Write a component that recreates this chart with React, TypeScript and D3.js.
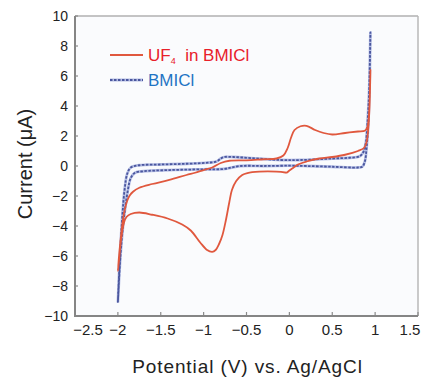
import React from "react";
import * as d3 from "d3";

// UF4 in BMICl: forward scan from ~0 V, reverse to -2 V, then back to ~0 V
const ufPotential = [
  -0.03, 0.0, 0.05, 0.1, 0.2, 0.35, 0.5, 0.65, 0.8, 0.87, 0.9, 0.92, 0.935, 0.945,
  0.935, 0.925, 0.91, 0.88, 0.8, 0.65, 0.5, 0.4, 0.3, 0.2, 0.13, 0.06, 0.02, -0.02, -0.07, -0.15, -0.3, -0.5,
  -0.7, -0.8, -0.9, -1.0, -1.1, -1.2, -1.4, -1.6, -1.75, -1.82, -1.86, -1.89, -1.93, -1.97, -2.0,
  -1.99, -1.96, -1.93, -1.9, -1.85, -1.75, -1.6, -1.42, -1.25, -1.15, -1.04, -0.96, -0.9, -0.86, -0.82,
  -0.78, -0.74, -0.7, -0.67, -0.62, -0.55, -0.49, -0.35, -0.15, -0.03,
];
const ufCurrent = [
  -0.45, -0.3, -0.1, 0.1, 0.3, 0.5, 0.6, 0.75, 1.0, 1.2, 1.6, 2.5, 4.0, 6.4,
  4.2, 3.2, 2.6, 2.35, 2.3, 2.2, 2.1, 2.2, 2.4, 2.68, 2.65, 2.4, 1.9, 1.2, 0.7, 0.5, 0.45, 0.38,
  0.35, 0.2, -0.1, -0.27, -0.45, -0.6, -0.93, -1.2, -1.45, -1.7, -1.95, -2.3, -3.2, -5.0, -7.0,
  -6.5, -4.8, -3.8, -3.4, -3.2, -3.1, -3.25, -3.5, -3.9, -4.3, -5.1, -5.6, -5.73, -5.6, -5.2,
  -4.6, -3.6, -2.4, -1.6, -1.0, -0.6, -0.47, -0.38, -0.38, -0.45,
];

// BMICl blank: upper branch from -2 V to +0.95 V, lower branch back to -2 V
const blankPotential = [
  -2.0, -1.98, -1.95, -1.92, -1.89, -1.85, -1.75, -1.5, -1.2, -0.95, -0.85, -0.8, -0.76, -0.65, -0.45,
  -0.1, 0.13, 0.5, 0.7, 0.82, 0.86, 0.89, 0.91, 0.93, 0.945,
  0.935, 0.92, 0.9, 0.88, 0.85, 0.8, 0.5, 0.2, 0.0, -0.3, -0.57, -0.77, -1.0, -1.4, -1.7, -1.8,
  -1.85, -1.88, -1.91, -1.94, -1.97, -2.0,
];
const blankCurrent = [
  -9.1, -6.5, -3.5, -1.5, -0.5, -0.1, 0.05, 0.1, 0.15, 0.22, 0.3, 0.5, 0.6, 0.6, 0.53,
  0.4, 0.4, 0.5, 0.55, 0.65, 0.9, 1.5, 2.8, 5.0, 8.9,
  5.5, 2.8, 1.2, 0.3, -0.05, -0.1, -0.05, 0.0, 0.02, 0.0, 0.0, -0.2, -0.22, -0.27, -0.35, -0.45,
  -0.8, -1.5, -2.6, -4.0, -6.0, -9.1,
];

const xTicks = [-2.5, -2, -1.5, -1, -0.5, 0, 0.5, 1, 1.5];
const yTicks = [-10, -8, -6, -4, -2, 0, 2, 4, 6, 8, 10];

const W = 421;
const H = 378;
const left = 75;
const right = 418;
const top = 16;
const bottom = 316;

const fmt = (v: number) => String(v).replace("-", "\u2212");

export default function App() {
  const x = d3.scaleLinear().domain([-2.5, 1.5]).range([left, right]);
  const y = d3.scaleLinear().domain([-10, 10]).range([bottom, top]);

  const line = d3
    .line<[number, number]>()
    .x((d) => x(d[0]))
    .y((d) => y(d[1]))
    .curve(d3.curveCatmullRom.alpha(0.5));

  const ufPts = ufPotential.map((v, i) => [v, ufCurrent[i]] as [number, number]);
  const blankPts = blankPotential.map((v, i) => [v, blankCurrent[i]] as [number, number]);

  const font = "'Liberation Sans', Arial, sans-serif";
  const n = xTicks.length;

  return (
    <svg
      width={W}
      height={H}
      style={{ position: "absolute", left: 0, top: 0, background: "#fff" }}
      fontFamily={font}
    >
      <rect x={left} y={top} width={right - left} height={bottom - top} fill="#fafbfd" />

      <line x1={left} x2={right} y1={top} y2={top} stroke="#b0b0b0" strokeWidth={1.5} />
      <line x1={right} x2={right} y1={top} y2={bottom} stroke="#b8b8b8" strokeWidth={1.5} />

      {xTicks.map((t) => (
        <line key={"xt" + t} x1={x(t)} x2={x(t)} y1={bottom} y2={bottom - 4} stroke="#8a8a8a" strokeWidth={1.2} />
      ))}
      {yTicks.map((t) => (
        <line key={"yt" + t} x1={left} x2={left + 3} y1={y(t)} y2={y(t)} stroke="#8a8a8a" strokeWidth={1.2} />
      ))}

      <clipPath id="plot">
        <rect x={left} y={top} width={right - left} height={bottom - top} />
      </clipPath>
      <g clipPath="url(#plot)" fill="none">
        <path d={line(blankPts) ?? ""} stroke="#b4bde4" strokeWidth={2.8} />
        <path d={line(blankPts) ?? ""} stroke="#4a569e" strokeWidth={1.8} strokeDasharray="2.5 1.5" />
        <path d={line(ufPts) ?? ""} stroke="#e0583e" strokeWidth={1.8} />
      </g>

      <line x1={left} x2={left} y1={top} y2={bottom + 1} stroke="#858585" strokeWidth={2} />
      <line x1={left - 1} x2={right} y1={bottom} y2={bottom} stroke="#858585" strokeWidth={2} />

      {xTicks.map((t, i) => (
        <text
          key={"xl" + t}
          x={x(t) + (i === 0 ? 13 : i === n - 1 ? -8 : 0)}
          y={335}
          textAnchor="middle"
          fontSize={15}
          fill="#222"
        >
          {fmt(t)}
        </text>
      ))}
      {yTicks.map((t) => (
        <text key={"yl" + t} x={68} y={y(t) + 5} textAnchor="end" fontSize={14} fill="#222">
          {fmt(t)}
        </text>
      ))}

      <text x={(133 + 362) / 2} y={373} textAnchor="middle" fontSize={19} letterSpacing={0.9} fill="#222">
        Potential (V) vs. Ag/AgCl
      </text>
      <text transform="translate(32,164) rotate(-90)" textAnchor="middle" fontSize={20} fill="#222">
        Current (μA)
      </text>

      <line x1={110} x2={143} y1={55} y2={55} stroke="#e0583e" strokeWidth={1.8} />
      <text x={148} y={61} fontSize={17} fill="#e8202a">
        <tspan>UF</tspan>
        <tspan fontSize={9} dy={3}>4</tspan>
        <tspan dy={-3}>{"\u00a0 in BMICl"}</tspan>
      </text>
      <line x1={110} x2={143} y1={80} y2={80} stroke="#b4bde4" strokeWidth={2.8} />
      <line x1={110} x2={143} y1={80} y2={80} stroke="#4a569e" strokeWidth={1.8} strokeDasharray="2.5 1.5" />
      <text x={148} y={86} fontSize={17} fill="#1f74c4">
        BMICl
      </text>
    </svg>
  );
}
